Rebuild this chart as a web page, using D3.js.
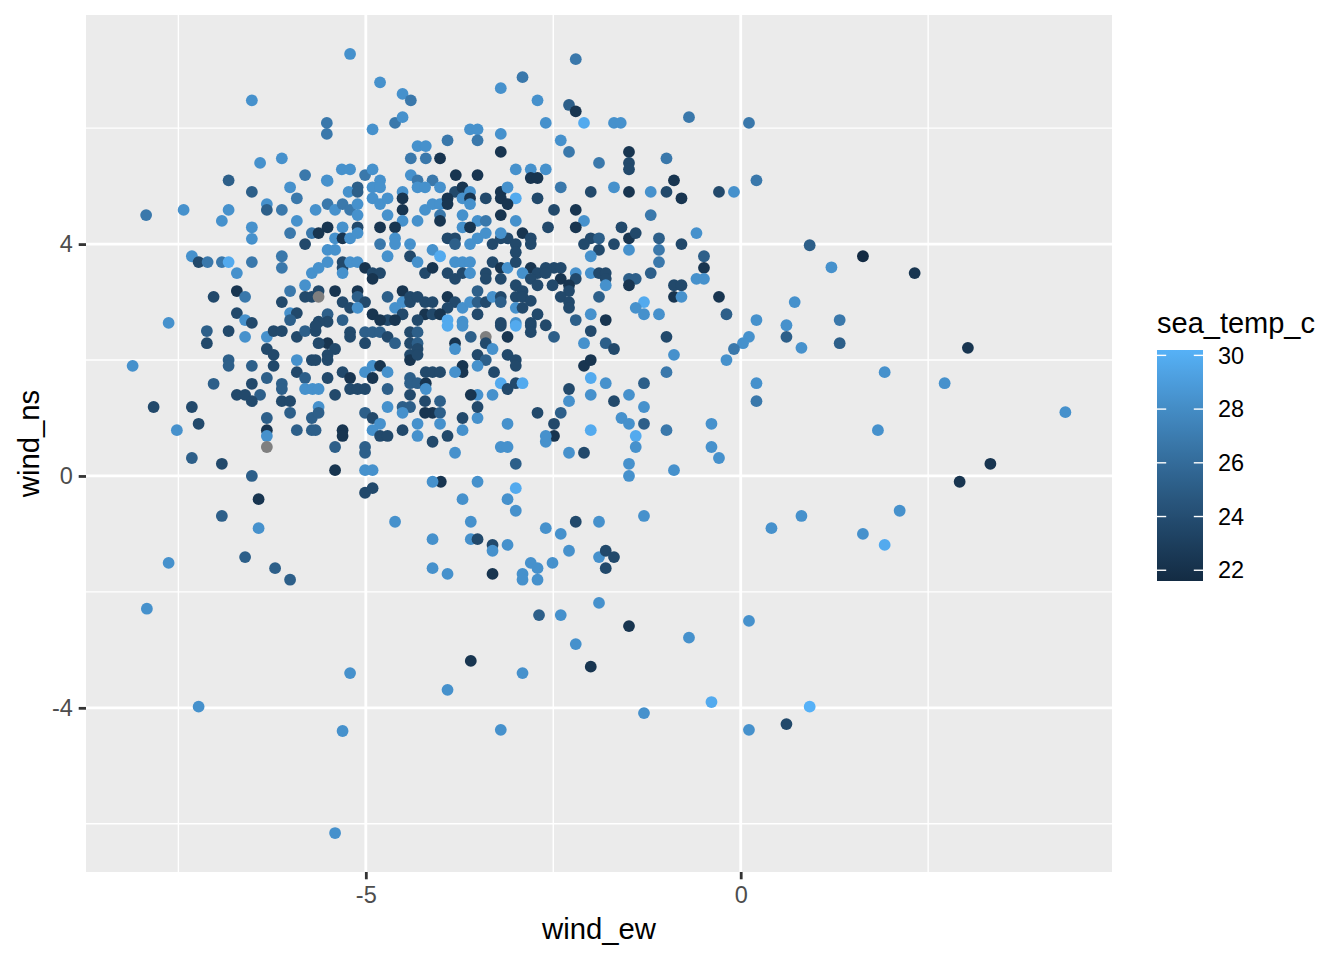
<!DOCTYPE html>
<html>
<head>
<meta charset="utf-8">
<script src="https://cdn.jsdelivr.net/npm/d3@7"></script>
<style>
  body { margin: 0; background: #fff; }
  text { font-family: "Liberation Sans", Arial, Helvetica, sans-serif; }
</style>
</head>
<body>
<div class="canvas"></div>
<script>
// wind components and sea temperature, one entry per observation
const windEw = [
  // top band
  -6.52,-6.41,-6.12,-5.81,-6.83,-5.21,-4.81,-4.51,-4.40,-5.52,
  -5.52,-4.91,-4.61,-4.51,-4.31,-4.20,-4.40,-4.20,-4.01,-3.91,
  -3.61,-3.51,-3.51,-3.20,-3.20,-3.20,-2.91,-2.71,-2.60,-5.32,
  -5.21,-5.01,-4.91,-5.52,-4.81,-4.40,-4.31,-4.11,-3.80,-3.51,
  -3.00,-2.80,-2.60,-2.80,-2.71,-2.20,-2.29,-2.20,-2.09,-1.69,
  -1.60,-0.69,0.11,-2.40,-2.29,-1.89,-1.49,-1.49,-1.49,-0.99,
  -0.89,0.21,
  // left side
  -6.52,-6.01,-6.32,-6.32,-6.12,-5.92,-7.93,-7.43,-6.83,-6.92,
  -6.52,-6.52,-5.92,-6.01,-5.72,-5.67,-5.81,-7.32,-7.23,-7.11,
  -6.92,-6.83,-6.52,-6.12,-6.12,-6.72,-5.72,-5.81,-6.01,-6.72,
  -6.61,-7.03,-6.12,-5.81,-5.72,-6.01,-5.92,-6.72,-6.61,-6.52,
  -6.01,-7.63,-7.12,-6.83,-6.61,-6.32,-6.23,-6.12,-5.92,-5.81,
  -5.67,-7.12,-6.32,-6.23,-6.83,-6.83,-6.52,-6.23,-5.92,-5.72,
  -8.11,-5.92,-5.81,-6.32,-6.52,-7.03,-6.12,-6.12,-5.81,-5.71,
  -6.72,-6.61,-6.41,-6.52,-6.12,-6.01,-6.01,-7.83,-7.32,-7.23,
  -6.32,-5.72,-7.52,-6.32,-6.32,-5.92,-5.72,-6.32,-7.32,-6.92,
  -6.52,
  // below zero
  -6.43,-6.92,-6.43,-7.63,-6.61,-6.21,-6.01,-7.92,-5.01,-4.91,
  -4.61,-5.21,-7.23,-5.31,-5.41,-4.00,-3.51,-3.00,-3.71,-3.11,
  -3.00,-3.60,-4.11,-3.60,-3.51,-3.31,-3.31,-3.11,-2.60,-2.40,
  -2.20,-1.89,-1.29,0.41,-2.29,-2.51,-2.80,-2.71,-2.91,-2.91,
  -2.71,-4.11,-3.91,-3.31,-1.89,-1.80,-1.69,-1.80,-1.89,-2.69,
  -2.40,-1.49,0.11,-2.20,-0.69,-3.60,-2.91,-2.00,-3.91,-0.39,
  -1.29,-3.20,0.11,
  // right side
  0.92,1.63,1.21,2.32,0.72,0.21,0.61,1.32,0.11,0.03,
  0.61,0.81,1.32,3.03,1.92,2.72,0.21,0.21,4.33,1.83,
  3.33,2.92,2.12,0.81,1.63,1.92,0.92,0.61,
  // centre right
  -2.40,-2.00,-1.69,-1.49,-1.20,-0.99,-0.79,-0.29,-0.09,-2.49,
  -2.20,-2.09,-2.20,-2.57,-1.59,-1.20,-1.49,-1.40,-2.00,-1.89,
  -2.09,-1.69,-1.89,-2.00,-1.49,-1.09,-1.09,-1.09,-0.79,-0.59,
  -0.49,-0.49,-0.59,-0.49,-1.20,-2.49,-2.40,-2.60,-2.20,-2.00,
  -1.89,-1.80,-1.80,-1.80,-2.40,-2.20,-2.51,-2.29,-2.29,-1.49,
  -1.40,-1.49,-0.89,-0.79,-0.89,-0.79,-0.29,-2.40,-2.29,-2.29,
  -1.89,-1.29,-1.40,-1.29,-1.09,-2.00,-0.19,-2.20,-1.80,-2.60,
  -2.49,-2.00,-2.09,-1.80,-1.69,-0.99,-0.09,-0.19,-2.09,-2.00,
  -0.89,-0.99,-2.00,-1.80,-1.29,-2.29,-2.29,-2.00,-1.69,-1.49,
  -1.29,-2.40,-2.49,-2.49,-2.60,-1.59,-1.49,-1.29,-2.00,-0.99,
  -1.40,-1.40,-0.39,-0.39,-0.29,-2.29,-2.09,-1.49,-1.49,-0.89,
  // dense core
  -5.51,-5.11,-5.23,-5.11,-4.91,-4.81,-4.51,-4.31,-4.21,-4.01,
  -3.81,-3.71,-3.61,-3.20,-3.00,-3.11,-2.71,-3.40,-5.51,-5.41,
  -5.31,-5.21,-5.11,-5.11,-4.91,-4.81,-4.71,-4.51,-4.51,-4.71,
  -4.21,-4.11,-4.01,-3.91,-3.91,-3.71,-3.61,-3.61,-4.01,-4.01,
  -3.71,-3.51,-3.40,-3.20,-3.20,-3.11,-3.00,-4.31,-4.51,-5.51,
  -5.63,-5.31,-5.11,-5.41,-5.31,-5.21,-5.11,-4.81,-4.61,-4.61,
  -4.41,-4.81,-4.61,-3.91,-3.81,-3.81,-3.71,-3.61,-3.51,-3.61,
  -3.40,-3.31,-3.20,-3.11,-3.20,-3.00,-2.91,-2.80,-2.80,-3.00,
  -5.51,-5.41,-5.51,-5.63,-5.31,-5.31,-5.31,-5.21,-5.11,-5.01,
  -4.91,-4.81,-4.91,-4.71,-4.41,-4.31,-4.11,-4.01,-4.21,-4.11,
  -3.91,-3.81,-3.71,-3.61,-3.81,-3.71,-3.61,-3.40,-3.40,-3.31,
  -3.20,-3.20,-3.11,-3.00,-2.80,-2.71,-2.91,-2.80,-2.71,-2.60,
  -3.00,-2.91,-5.63,-5.63,-5.41,-5.31,-5.21,-5.11,-5.11,-5.01,
  -5.11,-4.91,-4.71,-4.61,-4.51,-4.51,-4.41,-4.41,-4.31,-4.21,
  -4.11,-4.21,-4.11,-4.31,-4.51,-4.71,-4.61,-4.81,-3.91,-3.81,
  -3.91,-4.01,-3.91,-3.71,-3.61,-3.71,-3.51,-3.51,-3.51,-3.40,
  -3.31,-3.20,-3.20,-3.20,-3.00,-2.91,-3.00,-2.91,-2.80,-2.71,
  -2.80,-3.00,-5.51,-5.51,-5.31,-5.63,-5.67,-5.21,-5.21,-5.01,
  -5.01,-4.91,-4.81,-4.71,-4.61,-4.41,-4.31,-4.41,-4.31,-4.31,
  -4.41,-4.41,-4.31,-3.91,-3.71,-3.81,-3.81,-3.60,-3.40,-3.40,
  -3.51,-3.40,-3.51,-3.31,-3.20,-3.00,-2.80,-2.80,-3.11,-3.11,
  -3.00,-3.00,-3.29,-3.20,-3.11,-3.00,-2.91,-3.71,-3.71,-3.81,
  -5.51,-5.63,-5.41,-5.51,-5.51,-5.67,-5.31,-5.21,-5.51,-5.01,
  -4.91,-4.81,-4.71,-4.91,-5.63,-5.21,-5.11,-5.01,-5.41,-4.71,
  -4.41,-4.41,-4.31,-4.20,-4.20,-4.11,-4.01,-4.20,-4.41,-4.21,
  -4.01,-4.11,-4.21,-4.01,-4.01,-4.51,-4.41,-4.51,-4.71,-5.01,
  -4.91,-4.81,-4.91,-4.81,-4.71,-4.51,-4.31,-4.31,-4.11,-3.91,
  -3.71,-3.71,-3.51,-3.51,-3.51,-3.60,-3.31,-3.81,-3.20,-3.11,
  -3.11,-3.00,-2.71,-2.60,-5.63,-5.63,-5.67,-5.31,-5.31,-5.41,
  -5.01,-5.01,-5.41,-5.01,-4.91,-4.11
];

const windNs = [
  // top band
  6.48,5.40,5.48,5.19,5.10,7.28,6.79,6.59,6.48,6.09,
  5.90,5.98,6.09,6.19,5.69,5.69,5.48,5.48,5.48,5.79,
  5.98,5.98,5.79,6.69,5.90,5.59,6.88,6.48,6.09,5.29,
  5.29,5.19,5.29,5.10,5.10,5.19,5.10,5.10,5.19,5.19,
  5.29,5.29,5.29,5.14,5.14,7.19,6.40,6.29,6.09,6.09,
  6.09,6.19,6.09,5.79,5.59,5.40,5.59,5.40,5.29,5.48,
  5.10,5.10,
  // left side
  4.90,4.98,4.69,4.59,4.59,4.79,4.50,4.59,4.59,4.40,
  4.29,4.09,4.40,4.19,4.19,4.59,4.00,3.79,3.69,3.69,
  3.69,3.69,3.69,3.79,3.59,3.50,3.50,3.29,3.19,3.19,
  3.09,3.09,3.00,3.09,3.09,2.81,2.81,2.81,2.69,2.64,
  2.69,2.64,2.50,2.50,2.40,2.40,2.50,2.50,2.40,2.50,
  2.50,2.29,2.19,2.09,2.00,1.90,1.90,1.90,2.00,2.00,
  1.90,1.79,1.69,1.69,1.59,1.59,1.59,1.50,1.50,1.50,
  1.40,1.40,1.40,1.29,1.29,1.29,1.09,1.19,1.19,0.90,
  1.00,1.00,0.79,0.79,0.69,0.79,0.79,0.50,0.31,0.21,
  0.00,
  // below zero
  -0.40,-0.69,-0.90,-1.50,-1.40,-1.59,-1.79,-2.29,-0.29,-0.21,
  -0.79,-3.40,-3.98,-4.40,-6.16,-0.10,-0.10,-0.21,-0.40,-0.40,
  -0.60,-0.79,-1.09,-1.09,-1.09,-1.19,-1.29,-1.19,-0.90,-1.00,
  -0.79,-0.79,-0.69,-0.90,-1.29,-1.50,-1.50,-1.59,-1.69,-1.79,
  -1.79,-1.59,-1.69,-1.69,-1.40,-1.29,-1.40,-1.59,-2.19,-2.40,
  -2.40,-2.59,-2.50,-2.90,-2.79,-3.19,-3.40,-3.29,-3.69,-3.90,
  -4.09,-4.38,-4.38,
  // right side
  3.98,3.79,3.60,3.50,3.00,2.69,2.60,2.69,2.40,2.29,
  2.40,2.21,2.29,2.21,1.79,1.60,1.60,1.29,1.10,0.79,
  0.21,-0.10,-0.60,-0.69,-1.00,-1.19,-3.98,-4.28,
  // centre right
  4.98,4.90,4.98,4.90,4.90,4.90,4.79,4.90,4.90,4.59,
  4.59,4.40,4.29,4.29,4.29,4.50,4.10,4.19,4.10,4.10,
  4.00,4.00,3.90,3.79,3.90,4.10,3.90,3.69,4.00,4.19,
  3.79,3.59,3.40,3.40,3.50,3.59,3.59,3.59,3.50,3.50,
  3.50,3.50,3.40,3.29,3.40,3.40,3.29,3.29,3.19,3.40,
  3.40,3.29,3.29,3.29,3.09,3.09,3.09,3.09,3.00,2.90,
  3.09,3.00,2.90,2.79,2.79,2.79,2.79,2.69,2.69,2.60,
  2.40,2.50,2.29,2.29,2.19,2.40,2.19,2.00,1.90,2.00,
  2.09,1.79,1.69,1.60,1.60,1.50,1.29,1.40,1.29,1.40,
  1.19,1.09,0.90,0.69,0.59,1.00,0.90,0.90,0.79,0.79,
  0.69,0.50,0.90,0.50,0.31,0.40,0.40,0.21,0.00,0.10,
  // dense core
  5.09,4.98,4.90,4.90,4.98,4.98,4.90,4.98,4.98,4.98,
  4.90,4.98,4.90,4.90,4.79,4.98,4.79,4.79,4.69,4.59,
  4.69,4.59,4.69,4.50,4.79,4.69,4.79,4.79,4.59,4.50,
  4.59,4.69,4.69,4.79,4.69,4.79,4.79,4.69,4.50,4.40,
  4.50,4.40,4.40,4.50,4.79,4.69,4.40,4.40,4.40,4.29,
  4.19,4.29,4.29,4.10,4.10,4.10,4.19,4.29,4.29,4.10,
  4.00,4.00,4.00,4.10,4.10,4.00,4.29,4.29,4.10,4.00,
  4.19,4.00,4.10,4.10,4.19,4.00,4.19,4.10,4.00,3.86,
  3.90,3.90,3.69,3.59,3.69,3.59,3.50,3.69,3.69,3.59,
  3.50,3.50,3.40,3.79,3.79,3.69,3.90,3.79,3.50,3.59,
  3.50,3.69,3.69,3.69,3.40,3.50,3.50,3.50,3.40,3.69,
  3.59,3.40,3.59,3.69,3.59,3.50,3.50,3.40,3.29,3.50,
  3.29,3.19,3.19,3.09,3.19,3.00,2.90,3.19,3.09,3.00,
  2.90,2.79,3.09,2.90,3.19,3.00,3.09,3.00,3.09,3.00,
  3.00,2.79,2.79,2.69,2.79,2.69,2.69,2.69,3.09,3.00,
  2.90,2.79,2.69,2.90,3.00,2.66,3.19,3.00,2.79,3.00,
  3.09,3.09,3.00,2.64,3.09,3.09,2.90,2.90,3.02,2.79,
  2.64,2.64,2.79,2.66,2.69,2.66,2.59,2.48,2.40,2.48,
  2.29,2.48,2.48,2.40,2.29,2.48,2.48,2.29,2.29,2.19,
  2.09,2.00,2.09,2.59,2.59,2.29,2.19,2.40,2.40,2.29,
  2.09,2.00,1.90,2.19,2.59,2.59,2.59,2.48,2.40,2.09,
  2.00,1.90,1.79,1.60,1.50,1.60,1.60,1.90,1.79,1.79,
  2.29,2.29,2.19,2.09,2.00,2.00,1.79,1.69,1.69,1.79,
  1.90,1.90,1.79,1.69,1.50,1.50,1.50,1.50,1.40,1.50,
  1.69,1.60,1.60,1.60,1.79,1.79,1.79,1.50,1.40,1.29,
  1.29,1.09,1.09,1.09,0.90,1.19,1.19,1.09,1.19,1.09,
  1.00,0.90,0.79,0.69,0.69,0.79,0.90,0.69,0.59,0.69,
  1.00,0.79,1.00,1.19,1.40,1.40,1.40,0.40,0.50,0.50,
  0.90,0.21,1.09,0.69,1.19,1.09,0.79,0.79,0.69,0.50,
  0.50,0.40,0.10,0.10,0.10,-0.10
];

const seaTemp = [
  // top band
  28.3,28.3,28.3,26.8,25.2,28.3,28.3,28.3,26.8,26.8,
  26.8,28.3,26.8,28.3,28.3,28.3,26.8,26.8,22.3,26.8,
  28.3,28.3,26.8,28.3,28.3,22.3,26.8,28.3,28.3,28.3,
  28.3,26.8,28.3,28.3,28.3,28.3,26.8,26.8,22.3,22.3,
  28.3,28.3,28.3,22.3,22.3,26.8,25.2,22.3,29.8,28.3,
  28.3,26.8,26.8,28.3,26.8,26.8,22.3,23.7,23.7,26.8,
  22.3,26.8,
  // left side
  25.2,28.3,28.3,25.2,26.8,26.8,26.8,28.3,28.3,28.3,
  28.3,28.3,28.3,26.8,26.8,28.3,23.7,28.3,23.7,26.8,
  26.8,29.8,26.8,26.8,26.8,28.3,28.3,28.3,26.8,22.3,
  26.8,23.7,23.7,23.7,23.7,28.3,23.7,23.7,28.3,23.7,
  25.2,28.3,25.2,23.7,28.3,28.3,23.7,23.7,23.7,25.2,
  23.7,23.7,23.7,23.7,25.2,25.2,25.2,23.7,28.3,23.7,
  28.3,23.7,25.2,25.2,23.7,25.2,25.2,25.2,28.3,28.3,
  23.7,23.7,25.2,23.7,23.7,23.7,25.2,23.7,23.7,23.7,
  25.2,25.2,28.3,22.3,28.3,25.2,25.2,null,25.2,23.7,
  25.2,
  // below zero
  22.3,25.2,28.3,28.3,25.2,25.2,25.2,28.3,23.7,23.7,
  28.3,28.3,28.3,28.3,28.3,22.3,28.3,29.8,28.3,28.3,
  28.3,28.3,28.3,28.3,23.7,23.7,28.3,28.3,28.3,28.3,
  23.7,28.3,28.3,28.3,28.3,28.3,28.3,28.3,28.3,28.3,
  28.3,28.3,28.3,22.3,28.3,23.7,23.7,23.7,28.3,25.2,
  28.3,22.3,28.3,28.3,28.3,22.3,28.3,22.3,28.3,29.8,
  28.3,28.3,28.3,
  // right side
  25.2,21.6,28.3,22.3,28.3,28.3,28.3,26.8,28.3,28.3,
  25.2,28.3,25.2,22.3,28.3,28.3,28.3,26.8,28.3,28.3,
  22.3,22.3,28.3,28.3,28.3,29.8,30.2,23.7,
  // centre right
  26.8,23.7,28.3,22.3,28.3,23.7,22.3,23.7,28.3,23.7,
  22.3,28.3,22.3,23.7,23.7,26.8,22.3,23.7,23.7,25.2,
  23.7,23.7,23.7,28.3,28.3,25.2,26.8,26.8,23.7,28.3,
  25.2,22.3,28.3,28.3,25.2,23.7,23.7,23.7,28.3,28.3,
  23.7,23.7,23.7,28.3,22.3,23.7,23.7,22.3,23.7,25.2,
  25.2,22.3,23.7,23.7,22.3,28.3,22.3,23.7,23.7,23.7,
  25.2,29.8,28.3,28.3,28.3,28.3,25.2,25.2,22.3,23.7,
  25.2,23.7,28.3,25.2,23.7,23.7,26.8,28.3,22.3,22.3,
  28.3,26.8,29.8,28.3,25.2,23.7,28.3,28.3,23.7,28.3,
  28.3,25.2,23.7,22.3,28.3,28.3,28.3,25.2,29.8,26.8,
  29.8,28.3,28.3,28.3,28.3,28.3,23.7,28.3,28.3,28.3,
  // dense core
  28.3,25.2,28.3,25.2,28.3,28.3,28.3,28.3,28.3,28.3,
  23.7,22.3,28.3,22.3,29.8,28.3,23.7,23.7,26.8,28.3,
  26.8,26.8,28.3,28.3,28.3,28.3,28.3,22.3,22.3,28.3,
  28.3,28.3,28.3,22.3,22.3,28.3,22.3,28.3,26.8,22.3,
  28.3,28.3,26.8,22.3,22.3,22.3,28.3,28.3,28.3,22.3,
  22.3,28.3,23.7,28.3,22.3,28.3,28.3,22.3,22.3,28.3,
  28.3,26.8,28.3,23.7,23.7,25.2,28.3,22.3,28.3,28.3,
  28.3,23.7,23.7,23.7,28.3,23.7,22.3,23.7,23.7,23.7,
  28.3,28.3,28.3,28.3,23.7,23.7,28.3,28.3,28.3,22.3,
  23.7,23.7,22.3,28.3,23.7,28.3,28.3,29.8,23.7,22.3,
  23.7,28.3,28.3,28.3,23.7,23.7,28.3,23.7,23.7,23.7,
  22.3,23.7,28.3,23.7,22.3,23.7,28.3,23.7,23.7,23.7,
  23.7,23.7,23.7,null,22.3,23.7,23.7,22.3,25.2,23.7,
  28.3,22.3,25.2,28.3,22.3,28.3,23.7,23.7,23.7,23.7,
  23.7,22.3,23.7,23.7,23.7,23.7,22.3,22.3,22.3,23.7,
  23.7,22.3,29.8,28.3,28.3,28.3,25.2,25.2,23.7,23.7,
  28.3,23.7,25.2,23.7,23.7,23.7,28.3,23.7,23.7,23.7,
  23.7,28.3,25.2,23.7,25.2,23.7,23.7,23.7,23.7,25.2,
  23.7,25.2,25.2,23.7,25.2,23.7,25.2,23.7,25.2,23.7,
  23.7,22.3,23.7,29.8,28.3,22.3,28.3,25.2,null,23.7,
  23.7,25.2,28.3,28.3,23.7,29.8,23.7,23.7,22.3,23.7,
  23.7,23.7,23.7,29.8,23.7,23.7,29.8,22.3,22.3,28.3,
  22.3,23.7,23.7,23.7,23.7,23.7,23.7,22.3,23.7,28.3,
  28.3,22.3,28.3,22.3,28.3,23.7,23.7,23.7,23.7,25.2,
  25.2,25.2,25.2,22.3,23.7,23.7,23.7,28.3,23.7,23.7,
  25.2,22.3,22.3,25.2,28.3,25.2,25.2,28.3,28.3,25.2,
  23.7,28.3,28.3,23.7,23.7,23.7,28.3,28.3,23.7,23.7,
  23.7,28.3,28.3,23.7,28.3,22.3,28.3,28.3,28.3,28.3,
  28.3,25.2,23.7,28.3,28.3,25.2,25.2,22.3,22.3,25.2,
  25.2,25.2,22.3,28.3,28.3,28.3
];

// tick labels
const xTicks = [-5, 0];
const yTicks = [-4, 0, 4];
const tempTicks = [22, 24, 26, 28, 30];

const dims = { width: 1344, height: 960 };
const panel = { left: 86, right: 1112, top: 15, bottom: 872 };

const svg = d3
  .select(".canvas")
  .append("svg")
  .attr("width", dims.width)
  .attr("height", dims.height);

// ggplot style 5% expansion around the data range
const expand = (ext) => {
  const s = (ext[1] - ext[0]) * 0.05;
  return [ext[0] - s, ext[1] + s];
};

const x = d3
  .scaleLinear()
  .domain(expand(d3.extent(windEw)))
  .range([panel.left, panel.right]);

const y = d3
  .scaleLinear()
  .domain(expand(d3.extent(windNs)))
  .range([panel.bottom, panel.top]);

const tempExtent = d3.extent(seaTemp.filter((d) => d != null));
const color = d3
  .scaleLinear()
  .domain(tempExtent)
  .range(["#132B43", "#56B1F7"])
  .interpolate(d3.interpolateLab);

// minor breaks sit halfway between the major ones
const minorOf = (ticks, dom) => {
  const step = ticks[1] - ticks[0];
  return d3
    .range(-20, 21)
    .map((k) => ticks[0] + (k + 0.5) * step)
    .filter((v) => v > dom[0] && v < dom[1]);
};

// panel background
svg
  .append("rect")
  .attr("x", panel.left)
  .attr("y", panel.top)
  .attr("width", panel.right - panel.left)
  .attr("height", panel.bottom - panel.top)
  .attr("fill", "#EBEBEB");

const grid = svg.append("g");

grid
  .selectAll("line.xminor")
  .data(minorOf(xTicks, x.domain()))
  .enter()
  .append("line")
  .attr("x1", (d) => x(d))
  .attr("x2", (d) => x(d))
  .attr("y1", panel.top)
  .attr("y2", panel.bottom)
  .attr("stroke", "#fff")
  .attr("stroke-width", 1.4);

grid
  .selectAll("line.yminor")
  .data(minorOf(yTicks, y.domain()))
  .enter()
  .append("line")
  .attr("y1", (d) => y(d))
  .attr("y2", (d) => y(d))
  .attr("x1", panel.left)
  .attr("x2", panel.right)
  .attr("stroke", "#fff")
  .attr("stroke-width", 1.4);

grid
  .selectAll("line.xmajor")
  .data(xTicks)
  .enter()
  .append("line")
  .attr("x1", (d) => x(d))
  .attr("x2", (d) => x(d))
  .attr("y1", panel.top)
  .attr("y2", panel.bottom)
  .attr("stroke", "#fff")
  .attr("stroke-width", 2.8);

grid
  .selectAll("line.ymajor")
  .data(yTicks)
  .enter()
  .append("line")
  .attr("y1", (d) => y(d))
  .attr("y2", (d) => y(d))
  .attr("x1", panel.left)
  .attr("x2", panel.right)
  .attr("stroke", "#fff")
  .attr("stroke-width", 2.8);

// points
const n = Math.min(windEw.length, windNs.length, seaTemp.length);
const obs = d3.range(n).map((i) => ({ ew: windEw[i], ns: windNs[i], t: seaTemp[i] }));

svg
  .append("g")
  .selectAll("circle")
  .data(obs)
  .enter()
  .append("circle")
  .attr("cx", (d) => x(d.ew))
  .attr("cy", (d) => y(d.ns))
  .attr("r", 5.9)
  .attr("fill", (d) => (d.t == null ? "#7F7F7F" : color(d.t)));

// axes
const styleAxis = (g) => {
  g.select(".domain").remove();
  g.selectAll(".tick line").attr("stroke", "#333333").attr("stroke-width", 2.8);
  g.selectAll(".tick text")
    .attr("fill", "#4D4D4D")
    .style("font-size", "23.5px")
    .style("font-family", '"Liberation Sans", Arial, sans-serif');
};

svg
  .append("g")
  .attr("transform", `translate(0, ${panel.bottom})`)
  .call(
    d3.axisBottom(x).tickValues(xTicks).tickSize(7.3).tickPadding(7.5).tickFormat((d) => String(d))
  )
  .call(styleAxis);

svg
  .append("g")
  .attr("transform", `translate(${panel.left}, 0)`)
  .call(
    d3.axisLeft(y).tickValues(yTicks).tickSize(7.3).tickPadding(5.9).tickFormat((d) => String(d))
  )
  .call(styleAxis);

// axis titles
svg
  .append("text")
  .attr("x", (panel.left + panel.right) / 2)
  .attr("y", 939)
  .attr("text-anchor", "middle")
  .attr("font-size", 29.3)
  .attr("fill", "#000")
  .text("wind_ew");

svg
  .append("text")
  .attr("transform", `translate(39, ${(panel.top + panel.bottom) / 2}) rotate(-90)`)
  .attr("text-anchor", "middle")
  .attr("font-size", 29.3)
  .attr("fill", "#000")
  .text("wind_ns");

// legend colourbar
const bar = { x: 1157, width: 46, top: 350, bottom: 581 };
const legendY = d3.scaleLinear().domain(tempExtent).range([bar.bottom, bar.top]);

const grad = svg
  .append("defs")
  .append("linearGradient")
  .attr("id", "tempGrad")
  .attr("x1", 0)
  .attr("y1", 1)
  .attr("x2", 0)
  .attr("y2", 0);

grad
  .selectAll("stop")
  .data(d3.range(0, 1.0001, 0.05))
  .enter()
  .append("stop")
  .attr("offset", (d) => d)
  .attr("stop-color", (d) => color(tempExtent[0] + d * (tempExtent[1] - tempExtent[0])));

const legend = svg.append("g");

legend
  .append("text")
  .attr("x", bar.x)
  .attr("y", 333)
  .attr("font-size", 29)
  .attr("fill", "#000")
  .text("sea_temp_c");

legend
  .append("rect")
  .attr("x", bar.x)
  .attr("y", bar.top)
  .attr("width", bar.width)
  .attr("height", bar.bottom - bar.top)
  .attr("fill", "url(#tempGrad)");

const tickLen = bar.width / 5;
legend
  .selectAll("line.lt")
  .data(tempTicks)
  .enter()
  .append("line")
  .attr("x1", bar.x)
  .attr("x2", bar.x + tickLen)
  .attr("y1", (d) => legendY(d))
  .attr("y2", (d) => legendY(d))
  .attr("stroke", "#fff")
  .attr("stroke-width", 1.4);

legend
  .selectAll("line.rt")
  .data(tempTicks)
  .enter()
  .append("line")
  .attr("x1", bar.x + bar.width - tickLen)
  .attr("x2", bar.x + bar.width)
  .attr("y1", (d) => legendY(d))
  .attr("y2", (d) => legendY(d))
  .attr("stroke", "#fff")
  .attr("stroke-width", 1.4);

legend
  .selectAll("text.lab")
  .data(tempTicks)
  .enter()
  .append("text")
  .attr("x", bar.x + bar.width + 15)
  .attr("y", (d) => legendY(d))
  .attr("dy", "0.35em")
  .attr("font-size", 23.5)
  .attr("fill", "#000")
  .text((d) => d);
</script>
</body>
</html>
